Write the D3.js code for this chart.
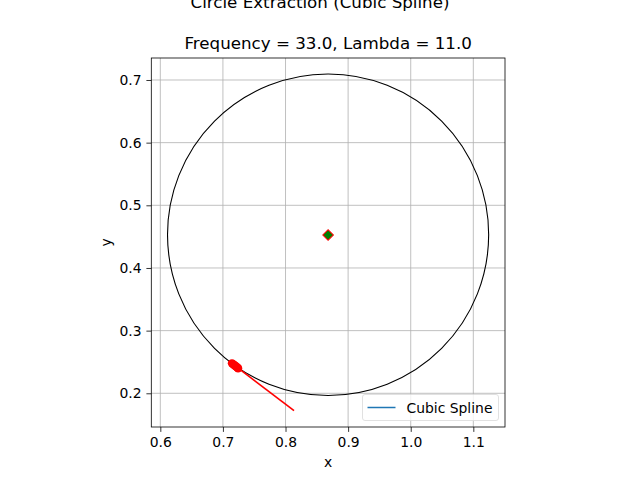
<!DOCTYPE html>
<html>
<head>
<meta charset="utf-8">
<script src="https://cdn.jsdelivr.net/npm/d3@7"></script>
<style>
  body { margin: 0; background: #fff; }
  svg { font-family: "DejaVu Sans", sans-serif; }
</style>
</head>
<body>
<div id="chart"></div>
<script>
// chart values
const xTicks = [0.6, 0.7, 0.8, 0.9, 1.0, 1.1];
const yTicks = [0.2, 0.3, 0.4, 0.5, 0.6, 0.7];
const circleCenter = [0.868, 0.453];
const circleRadius = 0.2565;
const splinePoints = [];   // cubic spline came out empty, only in legend
const redPoints = [
    [0.7145, 0.2478], [0.7165, 0.2462], [0.7185, 0.2447],
    [0.7205, 0.2432], [0.7225, 0.2417], [0.7242, 0.2400]
];
const redLine = [[0.7145, 0.2478], [0.8136, 0.1722]];
const centerMarker = [0.868, 0.4526];

const W = 640, H = 480;
const margin = {top: 58, right: 135, bottom: 53, left: 151.3};
const width = W - margin.left - margin.right;
const height = H - margin.top - margin.bottom;

const svg = d3.select("#chart").append("svg")
    .attr("width", W)
    .attr("height", H);

const x = d3.scaleLinear().domain([0.5856, 1.1506]).range([0, width]);
const y = d3.scaleLinear().domain([0.1462, 0.7351]).range([height, 0]);

const g = svg.append("g")
    .attr("transform", "translate(" + margin.left + "," + margin.top + ")");

// grid
g.append("g").selectAll("line").data(xTicks).enter().append("line")
    .attr("x1", d => x(d)).attr("x2", d => x(d))
    .attr("y1", 0).attr("y2", height)
    .attr("stroke", "#b0b0b0").attr("stroke-width", 0.8);
g.append("g").selectAll("line").data(yTicks).enter().append("line")
    .attr("y1", d => y(d)).attr("y2", d => y(d))
    .attr("x1", 0).attr("x2", width)
    .attr("stroke", "#b0b0b0").attr("stroke-width", 0.8);

const clip = g.append("clipPath").attr("id", "clip")
    .append("rect").attr("width", width).attr("height", height);
const plot = g.append("g").attr("clip-path", "url(#clip)");

// fitted circle
plot.append("ellipse")
    .attr("cx", x(circleCenter[0]))
    .attr("cy", y(circleCenter[1]))
    .attr("rx", x(circleCenter[0] + circleRadius) - x(circleCenter[0]))
    .attr("ry", y(circleCenter[1]) - y(circleCenter[1] + circleRadius))
    .attr("fill", "none").attr("stroke", "#000").attr("stroke-width", 1.1);

const line = d3.line().x(d => x(d[0])).y(d => y(d[1]));

plot.append("path").datum(splinePoints)
    .attr("d", line).attr("fill", "none")
    .attr("stroke", "#1f77b4").attr("stroke-width", 1.5);

plot.append("path").datum(redLine)
    .attr("d", line).attr("fill", "none")
    .attr("stroke", "red").attr("stroke-width", 1.6);

plot.selectAll(".rp").data(redPoints).enter().append("circle")
    .attr("class", "rp")
    .attr("cx", d => x(d[0])).attr("cy", d => y(d[1]))
    .attr("r", 4.2).attr("fill", "red");

plot.append("path")
    .attr("d", d3.symbol().type(d3.symbolSquare).size(56))
    .attr("transform", "translate(" + x(centerMarker[0]) + "," + y(centerMarker[1]) + ") rotate(45)")
    .attr("fill", "green").attr("stroke", "red").attr("stroke-width", 1);

// axes
const xAxis = g.append("g")
    .attr("transform", "translate(0," + height + ")")
    .call(d3.axisBottom(x).tickValues(xTicks).tickFormat(d3.format(".1f")).tickSizeOuter(0).tickSize(4.9).tickPadding(4.9));
const yAxis = g.append("g")
    .call(d3.axisLeft(y).tickValues(yTicks).tickFormat(d3.format(".1f")).tickSizeOuter(0).tickSize(4.9).tickPadding(4.9));
[xAxis, yAxis].forEach(a => {
    a.select(".domain").remove();
    a.selectAll("text").attr("font-size", "13.9px").attr("fill", "#000")
        .attr("font-family", "DejaVu Sans, sans-serif");
    a.selectAll("line").attr("stroke", "#000").attr("stroke-width", 0.8);
});

g.append("rect").attr("width", width).attr("height", height)
    .attr("fill", "none").attr("stroke", "#000").attr("stroke-width", 0.8);

// labels and titles
g.append("text").attr("x", width / 2).attr("y", height + 40)
    .attr("text-anchor", "middle").attr("font-size", "13.9px").text("x");
g.append("text")
    .attr("transform", "translate(-40," + (height / 2) + ") rotate(-90)")
    .attr("text-anchor", "middle").attr("font-size", "13.9px").text("y");
g.append("text").attr("x", width / 2).attr("y", -9)
    .attr("text-anchor", "middle").attr("font-size", "16.7px")
    .text("Frequency = 33.0, Lambda = 11.0");
// suptitle sits partly above the page edge, as in the reference
svg.append("text").attr("x", W / 2).attr("y", 7.5)
    .attr("text-anchor", "middle").attr("font-size", "16.7px")
    .text("Circle Extraction (Cubic Spline)");

// legend
const leg = svg.append("g").attr("transform", "translate(362.5,394.5)");
leg.append("rect").attr("width", 136).attr("height", 26).attr("rx", 2.5)
    .attr("fill", "#fff").attr("fill-opacity", 0.8)
    .attr("stroke", "#d9d9d9").attr("stroke-width", 0.8);
leg.append("line").attr("x1", 5).attr("x2", 33).attr("y1", 13).attr("y2", 13)
    .attr("stroke", "#1f77b4").attr("stroke-width", 1.5);
leg.append("text").attr("x", 44).attr("y", 18).attr("font-size", "13.9px")
    .text("Cubic Spline");
</script>
</body>
</html>
